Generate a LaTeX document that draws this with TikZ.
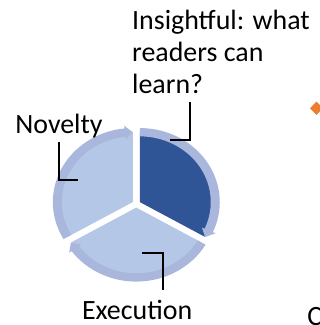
\documentclass[tikz,border=0pt]{standalone}
\usepackage{fontspec}
\setmainfont{Carlito}
\definecolor{lightseg}{RGB}{180,199,231}
\definecolor{darkseg}{RGB}{47,85,151}
\definecolor{ringcol}{RGB}{169,183,220}
\definecolor{bulletor}{RGB}{237,125,49}
\begin{document}
\begin{tikzpicture}[x=1pt,y=1pt,
  lbl/.style={anchor=base west,inner sep=0pt,font=\fontsize{27.9}{31.7}\selectfont,text=black},
  callout/.style={draw=black,line width=2pt},
  wedgelight/.style={fill=lightseg},
  wedgedark/.style={fill=darkseg},
  ringband/.style={fill=ringcol}]
\useasboundingbox (0,0) rectangle (320,325);
% cycle
\begin{scope}[shift={(136.3,121.1)},yscale=0.925]
 \foreach \t/\st in {30/wedgedark,150/wedgelight,270/wedgelight}{
  \begin{scope}[shift={(\t:4pt)}]
   \path[\st] (0,0) -- (\t+60:75pt) arc[start angle=\t+60,end angle=\t-60,radius=75pt] -- cycle;
   \path[ringband] (\t+60:80pt) arc[start angle=\t+60,end angle=\t-54,radius=80pt]
     -- (\t-54:83pt) -- (\t-60:75.5pt) -- (\t-54:68pt) -- (\t-54:71pt)
     arc[start angle=\t-54,end angle=\t+60,radius=71pt] -- cycle;
  \end{scope}
 }
\end{scope}
% labels
\node[lbl] (ins1) at (132,295) {Insightful: what};
\node[lbl] (ins2) at (132,263.3) {readers can};
\node[lbl] (ins3) at (132,231.7) {learn?};
\node[lbl] (nov) at (15.2,191.7) {Novelty};
\node[lbl] (exe) at (81.8,5.5) {Execution};
\node[lbl] (cc) at (307.3,0) {C};
% callouts
\coordinate (i1) at (190,223.3);
\coordinate (i2) at (190,185);
\coordinate (i3) at (170,185);
\draw[callout] (i1) -- (i2) -- (i3);
\coordinate (n1) at (59.3,183.3);
\coordinate (n2) at (59.3,145);
\coordinate (n3) at (78.3,145);
\draw[callout] (n1) -- (n2) -- (n3);
\coordinate (e1) at (142,72.5);
\coordinate (e2) at (163,72.5);
\coordinate (e3) at (163,35);
\draw[callout] (e1) -- (e2) -- (e3);
% orange diamond bullet
\fill[bulletor] (310,216.7) -- (316.5,223.4) -- (323,216.7) -- (316.5,210) -- cycle;
\end{tikzpicture}
\end{document}
